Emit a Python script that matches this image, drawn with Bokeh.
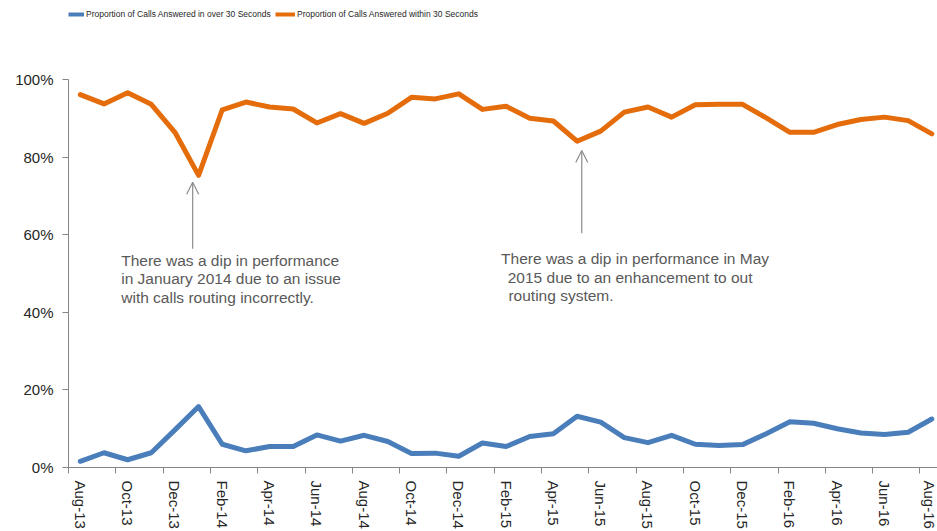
import math
from bokeh.plotting import figure
from bokeh.layouts import column
from bokeh.models import (Range1d, LinearAxis, FixedTicker, CustomJSTickFormatter,
                          Legend, LegendItem, Arrow, OpenHead, Label)
from bokeh.embed import file_html
from bokeh.resources import INLINE

months = ["Aug-13", "Sep-13", "Oct-13", "Nov-13", "Dec-13",
          "Jan-14", "Feb-14", "Mar-14", "Apr-14", "May-14", "Jun-14", "Jul-14",
          "Aug-14", "Sep-14", "Oct-14", "Nov-14", "Dec-14",
          "Jan-15", "Feb-15", "Mar-15", "Apr-15", "May-15", "Jun-15", "Jul-15",
          "Aug-15", "Sep-15", "Oct-15", "Nov-15", "Dec-15",
          "Jan-16", "Feb-16", "Mar-16", "Apr-16", "May-16", "Jun-16", "Jul-16", "Aug-16"]

within30 = [96.1, 93.7, 96.6, 93.6, 86.4, 75.3, 92.2, 94.2, 92.9, 92.4, 88.8, 91.2,
            88.7, 91.3, 95.4, 95.0, 96.3, 92.3, 93.1, 90.0, 89.3, 84.1, 86.7, 91.6,
            92.9, 90.3, 93.5, 93.6, 93.6, 90.1, 86.4, 86.4, 88.4, 89.7, 90.3, 89.4, 86.0]

over30 = [1.6, 3.8, 2.0, 3.8, 9.7, 15.7, 6.0, 4.3, 5.4, 5.4, 8.4, 6.8,
          8.3, 6.7, 3.6, 3.7, 2.9, 6.3, 5.4, 8.0, 8.7, 13.2, 11.7, 7.7,
          6.4, 8.3, 6.0, 5.7, 5.9, 8.7, 11.8, 11.4, 10.0, 8.9, 8.5, 9.1, 12.5]

y_ticks = [0, 20, 40, 60, 80, 100]
y_tick_labels = ["0%", "20%", "40%", "60%", "80%", "100%"]

series_names = ["Proportion of Calls Answered in over 30 Seconds",
                "Proportion of Calls Answered within 30 Seconds"]

note1 = ["There was a dip in performance",
         "in January 2014  due to an issue",
         "with calls routing incorrectly."]
note2 = ["There was a dip in performance in May",
         "2015 due to an enhancement to out",
         "routing system."]

x = list(range(len(months)))

FONT = "Liberation Sans"
AXIS_GRAY = "#868686"
TEXT_DARK = "#262626"
NOTE_GRAY = "#595959"
BLUE = "#4A7EBB"
ORANGE = "#E46C0A"
LEFT = 68

# ---------- legend strip ----------
LEG_H = 69
lf = figure(frame_width=869, frame_height=LEG_H, output_backend="svg",
            toolbar_location=None, x_axis_location=None, y_axis_location=None,
            x_range=Range1d(0, 869), y_range=Range1d(0, LEG_H),
            min_border_left=LEFT, min_border_right=0, min_border_top=0,
            min_border_bottom=0)
lf.outline_line_color = None
lf.xgrid.visible = False
lf.ygrid.visible = False
lf.background_fill_color = "white"
lf.border_fill_color = "white"
# keyed renderers placed outside the visible strip so only the legend keys show
lr_over = lf.line([-50, -40], [-50, -40], line_color=BLUE, line_width=4)
lr_within = lf.line([-50, -40], [-50, -40], line_color=ORANGE, line_width=4)
for xpos, gw, name, r in [(0, 16, series_names[0], lr_over),
                          (275 - LEFT, 20, series_names[1], lr_within)]:
    lg = Legend(items=[LegendItem(label=name, renderers=[r])],
                location=(xpos, LEG_H - 20), orientation="horizontal",
                border_line_color=None, background_fill_alpha=0,
                padding=0, margin=0, spacing=0,
                glyph_width=gw, glyph_height=12, label_height=12,
                label_standoff=2, label_text_font=FONT,
                label_text_font_size="8.5px", label_text_color=TEXT_DARK)
    lf.add_layout(lg, "center")

# ---------- main chart ----------
p = figure(frame_width=869, frame_height=388, output_backend="svg",
           toolbar_location=None, x_axis_location=None, y_axis_location=None,
           x_range=Range1d(-0.5, 36.24), y_range=Range1d(0, 100),
           min_border_left=LEFT, min_border_top=79 - LEG_H, min_border_right=0,
           min_border_bottom=64)
p.outline_line_color = None
p.xgrid.visible = False
p.ygrid.visible = False
p.background_fill_color = "white"
p.border_fill_color = "white"

# y axis
yax = LinearAxis(ticker=FixedTicker(ticks=y_ticks),
                 major_label_overrides={t: l for t, l in zip(y_ticks, y_tick_labels)})
yax.axis_line_color = AXIS_GRAY
yax.major_tick_line_color = AXIS_GRAY
yax.minor_tick_line_color = None
yax.major_tick_out = 6
yax.major_tick_in = 0
yax.major_label_standoff = 9
yax.major_label_text_font = FONT
yax.major_label_text_font_size = "15px"
yax.major_label_text_color = TEXT_DARK
p.add_layout(yax, "left")

# x axis: tick marks at category boundaries
boundaries = [i - 0.5 for i in range(0, len(months) + 1, 2)]
xax_ticks = LinearAxis(ticker=FixedTicker(ticks=boundaries),
                       formatter=CustomJSTickFormatter(code="return ''"))
xax_ticks.axis_line_color = AXIS_GRAY
xax_ticks.major_tick_line_color = AXIS_GRAY
xax_ticks.minor_tick_line_color = None
xax_ticks.major_tick_out = 6
xax_ticks.major_tick_in = 0
xax_ticks.major_label_standoff = 0
xax_ticks.major_label_text_font_size = "0px"
p.add_layout(xax_ticks, "below")

# x axis: month labels at category centres
label_idx = list(range(0, len(months), 2))
xax_labels = LinearAxis(ticker=FixedTicker(ticks=label_idx),
                        major_label_overrides={i: months[i] for i in label_idx})
xax_labels.axis_line_color = None
xax_labels.major_tick_line_color = None
xax_labels.minor_tick_line_color = None
xax_labels.major_tick_out = 0
xax_labels.major_tick_in = 0
xax_labels.major_label_standoff = 7
xax_labels.major_label_orientation = -math.pi / 2
xax_labels.major_label_text_font = FONT
xax_labels.major_label_text_font_size = "15px"
xax_labels.major_label_text_color = TEXT_DARK
p.add_layout(xax_labels, "below")

p.line(x, over30, line_color=BLUE, line_width=5, line_join="round", line_cap="round")
p.line(x, within30, line_color=ORANGE, line_width=5, line_join="round", line_cap="round")

# annotations
jan14 = months.index("Jan-14")
may15 = months.index("May-15")
arrow_color = "#8C8C8C"
p.add_layout(Arrow(end=OpenHead(size=12, line_color=arrow_color, line_width=1.2),
                   x_start=jan14 - 0.25, y_start=56.4,
                   x_end=jan14 - 0.25, y_end=within30[jan14] - 1.8,
                   line_color=arrow_color, line_width=1.2))
p.add_layout(Arrow(end=OpenHead(size=12, line_color=arrow_color, line_width=1.2),
                   x_start=may15 + 0.2, y_start=60.4,
                   x_end=may15 + 0.2, y_end=within30[may15] - 2.4,
                   line_color=arrow_color, line_width=1.2))

note1_pos = [(1.73, 53.35), (1.73, 48.63), (1.73, 43.9)]
note2_pos = [(17.79, 53.8), (18.07, 49.05), (18.1, 44.3)]
for lines, poss in [(note1, note1_pos), (note2, note2_pos)]:
    for t, (lx, ly) in zip(lines, poss):
        p.add_layout(Label(x=lx, y=ly, text=t, text_font=FONT,
                           text_font_size="15.5px", text_color=NOTE_GRAY,
                           text_baseline="middle", text_align="left"))

layout = column(lf, p, spacing=0)
open("out.html", "w").write(file_html(layout, INLINE))
